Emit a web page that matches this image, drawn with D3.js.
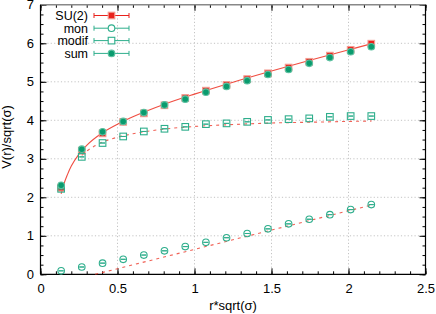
<!DOCTYPE html>
<html><head><meta charset="utf-8">
<script src="https://cdn.jsdelivr.net/npm/d3@7"></script>
<style>
html,body{margin:0;padding:0;background:#fff;}
svg{display:block;font-family:"Liberation Sans",Arial,sans-serif;}
</style></head>
<body><svg id="c" width="436" height="314"></svg>
<script>
// ---- data ----
const rVals   = [0.134,0.268,0.403,0.537,0.671,0.805,0.940,1.074,1.208,1.342,1.477,1.611,1.745,1.879,2.014,2.148];
const su2     = [2.25,3.21,3.66,3.96,4.18,4.39,4.58,4.77,4.92,5.07,5.22,5.37,5.52,5.68,5.83,5.99];
const su2Err  = [0.08,0.03,0.02,0.02,0.02,0.02,0.02,0.02,0.02,0.02,0.02,0.02,0.02,0.02,0.02,0.02];
const mon     = [0.09,0.19,0.29,0.39,0.50,0.61,0.72,0.83,0.95,1.06,1.18,1.31,1.43,1.55,1.68,1.81];
const modif   = [2.22,3.05,3.41,3.58,3.71,3.78,3.83,3.90,3.92,3.96,4.01,4.03,4.05,4.09,4.11,4.11];
const sumV    = [2.31,3.25,3.70,3.97,4.20,4.40,4.55,4.73,4.88,5.03,5.19,5.32,5.48,5.63,5.78,5.91];

const su2FitR   = [0.134,0.15,0.175,0.2,0.25,0.3,0.4,0.5,0.6,0.8,1.0,1.25,1.5,1.75,2.0,2.15];
const su2FitV   = [2.09,2.32,2.59,2.81,3.12,3.35,3.67,3.90,4.09,4.41,4.68,4.99,5.28,5.56,5.83,5.99];
const modifFitR = [0.268,0.3,0.35,0.4,0.5,0.6,0.8,1.0,1.25,1.5,1.75,2.0,2.15];
const modifFitV = [3.09,3.20,3.33,3.43,3.56,3.65,3.77,3.84,3.89,3.93,3.95,3.97,3.98];
const monFitR   = [0.355,2.15];
const monFitV   = [0.0,1.80];

const xTicks = [0,0.5,1,1.5,2,2.5];
const yTicks = [0,1,2,3,4,5,6,7];
const legendLabels = ["SU(2)","mon","modif","sum"];

// ---- layout ----
const svg = d3.select("#c");
const L=40.5, R=425.5, T=4.8, B=274.3;
const x = d3.scaleLinear().domain([0,2.5]).range([L,R]);
const y = d3.scaleLinear().domain([0,7]).range([B,T]);
const RED="#e8221c", REDL="#ee3a2c", TEAL="#0a9b6e", TEALL="#2eae8c";
const FS = "13px", LFS = "12.5px";

// grid
const g = svg.append("g");
xTicks.slice(1,-1).forEach(v=>g.append("line").attr("x1",x(v)).attr("x2",x(v)).attr("y1",T).attr("y2",B)
  .attr("stroke","#c4c4c4").attr("stroke-dasharray","1.2,2.2"));
yTicks.slice(1,-1).forEach(v=>g.append("line").attr("x1",L).attr("x2",R).attr("y1",y(v)).attr("y2",y(v))
  .attr("stroke","#c4c4c4").attr("stroke-dasharray","1.2,2.2"));

// axes via d3 axis (ticks inward), minor ticks
function styleAxis(sel){ sel.select(".domain").remove(); sel.selectAll("line").attr("stroke","#000"); }
const xMinor = d3.range(0,2.5001,0.1).map(v=>+v.toFixed(2));
const yMinor = d3.range(0,7.0001,0.25).map(v=>+v.toFixed(2));

const ax = svg.append("g").attr("transform",`translate(0,${B})`)
  .call(d3.axisBottom(x).tickValues(xTicks).tickSize(-6).tickPadding(10).tickFormat(d3.format("~g")));
styleAxis(ax);
ax.selectAll("text").attr("font-size",FS).attr("fill","#000").attr("dy","0.71em").attr("y",9);
svg.append("g").attr("transform",`translate(0,${B})`).call(d3.axisBottom(x).tickValues(xMinor).tickSize(-3).tickFormat(""))
  .call(styleAxis);
svg.append("g").attr("transform",`translate(0,${T})`).call(d3.axisTop(x).tickValues(xMinor).tickSize(-3).tickFormat(""))
  .call(styleAxis);
svg.append("g").attr("transform",`translate(0,${T})`).call(d3.axisTop(x).tickValues(xTicks).tickSize(-6).tickFormat(""))
  .call(styleAxis);

const ay = svg.append("g").attr("transform",`translate(${L},0)`)
  .call(d3.axisLeft(y).tickValues(yTicks).tickSize(-6).tickPadding(7).tickFormat(d3.format("d")));
styleAxis(ay);
ay.selectAll("text").attr("font-size",FS).attr("fill","#000").attr("x",-6.5);
svg.append("g").attr("transform",`translate(${L},0)`).call(d3.axisLeft(y).tickValues(yMinor).tickSize(-3).tickFormat(""))
  .call(styleAxis);
svg.append("g").attr("transform",`translate(${R},0)`).call(d3.axisRight(y).tickValues(yMinor).tickSize(-3).tickFormat(""))
  .call(styleAxis);
svg.append("g").attr("transform",`translate(${R},0)`).call(d3.axisRight(y).tickValues(yTicks).tickSize(-6).tickFormat(""))
  .call(styleAxis);

// border
svg.append("line").attr("x1",L).attr("x2",R).attr("y1",T).attr("y2",T).attr("stroke","#888").attr("stroke-width",1.6);
svg.append("line").attr("x1",L).attr("x2",L).attr("y1",T).attr("y2",B).attr("stroke","#000").attr("stroke-width",1.2);
svg.append("line").attr("x1",L).attr("x2",R).attr("y1",B).attr("y2",B).attr("stroke","#000").attr("stroke-width",1.2);
svg.append("line").attr("x1",R).attr("x2",R).attr("y1",T).attr("y2",B).attr("stroke","#000").attr("stroke-width",1.2);

// axis titles
svg.append("text").attr("x",(L+R)/2).attr("y",309.5).attr("text-anchor","middle").attr("font-size",FS).text("r*sqrt(σ)");
svg.append("text").attr("transform",`translate(10.5,137) rotate(-90)`).attr("text-anchor","middle")
  .attr("font-size",FS).text("V(r)/sqrt(σ)");

// ---- fit curves ----
const line = d3.line().x(d=>x(d[0])).y(d=>y(d[1])).curve(d3.curveMonotoneX);
const pl = svg.append("g");
pl.append("path").attr("d",line(d3.zip(su2FitR,su2FitV))).attr("fill","none").attr("stroke",REDL).attr("stroke-width",1.1).attr("stroke-opacity",0.9);
pl.append("path").attr("d",line(d3.zip(modifFitR,modifFitV))).attr("fill","none").attr("stroke",REDL).attr("stroke-width",1.1).attr("stroke-opacity",0.8).attr("stroke-dasharray","3,4");
pl.append("path").attr("d",line(d3.zip(monFitR,monFitV))).attr("fill","none").attr("stroke",REDL).attr("stroke-width",1.1).attr("stroke-opacity",0.8).attr("stroke-dasharray","3,4");

// ---- points ----
function errbars(vals, errs, color){
  const gg = svg.append("g").attr("stroke",color).attr("stroke-width",1);
  rVals.forEach((r,i)=>{
    const e = errs ? errs[i] : 0;
    const cx = x(r);
    gg.append("line").attr("x1",cx).attr("x2",cx).attr("y1",y(vals[i]-e)).attr("y2",y(vals[i]+e));
    gg.append("line").attr("x1",cx-2.5).attr("x2",cx+2.5).attr("y1",y(vals[i]-e)).attr("y2",y(vals[i]-e));
    gg.append("line").attr("x1",cx-2.5).attr("x2",cx+2.5).attr("y1",y(vals[i]+e)).attr("y2",y(vals[i]+e));
  });
}
function square(gg,cx,cy,fill,stroke){
  return gg.append("rect").attr("x",cx-3.3).attr("y",cy-3.3).attr("width",6.6).attr("height",6.6)
    .attr("fill",fill).attr("stroke",stroke).attr("stroke-width",1.1);
}
function circle(gg,cx,cy,fill,stroke){
  return gg.append("circle").attr("cx",cx).attr("cy",cy).attr("r",3.3).attr("fill",fill).attr("stroke",stroke).attr("stroke-width",1.1);
}
errbars(su2, su2Err, RED);
const gs = svg.append("g");
rVals.forEach((r,i)=>square(gs,x(r),y(su2[i]),RED,"#f49a90"));
errbars(mon, null, TEALL);
const gm = svg.append("g");
rVals.forEach((r,i)=>circle(gm,x(r),y(mon[i]),"none",TEALL));
errbars(modif, null, TEALL);
const gd = svg.append("g");
rVals.forEach((r,i)=>square(gd,x(r),y(modif[i]),"none",TEALL));
const gsum = svg.append("g");
rVals.forEach((r,i)=>circle(gsum,x(r),y(sumV[i]),TEAL,"#5cc0a0"));

// ---- legend ----
const legY = [15.5,28.2,40.6,53.4];
const leg = svg.append("g");
legendLabels.forEach((lab,i)=>{
  const yy = legY[i];
  const col = i===0 ? RED : TEALL;
  leg.append("text").attr("x",88).attr("y",yy+4.5).attr("text-anchor","end").attr("font-size",LFS).text(lab);
  leg.append("line").attr("x1",94).attr("x2",129).attr("y1",yy).attr("y2",yy).attr("stroke",col);
  leg.append("line").attr("x1",94).attr("x2",94).attr("y1",yy-2.5).attr("y2",yy+2.5).attr("stroke",col);
  leg.append("line").attr("x1",129).attr("x2",129).attr("y1",yy-2.5).attr("y2",yy+2.5).attr("stroke",col);
  const cx = 111.5;
  if(i===0) square(leg,cx,yy,RED,"#f49a90");
  if(i===1) circle(leg,cx,yy,"#fff",TEALL);
  if(i===2) square(leg,cx,yy,"#fff",TEALL);
  if(i===3) circle(leg,cx,yy,TEAL,"#5cc0a0");
});
</script></body></html>
